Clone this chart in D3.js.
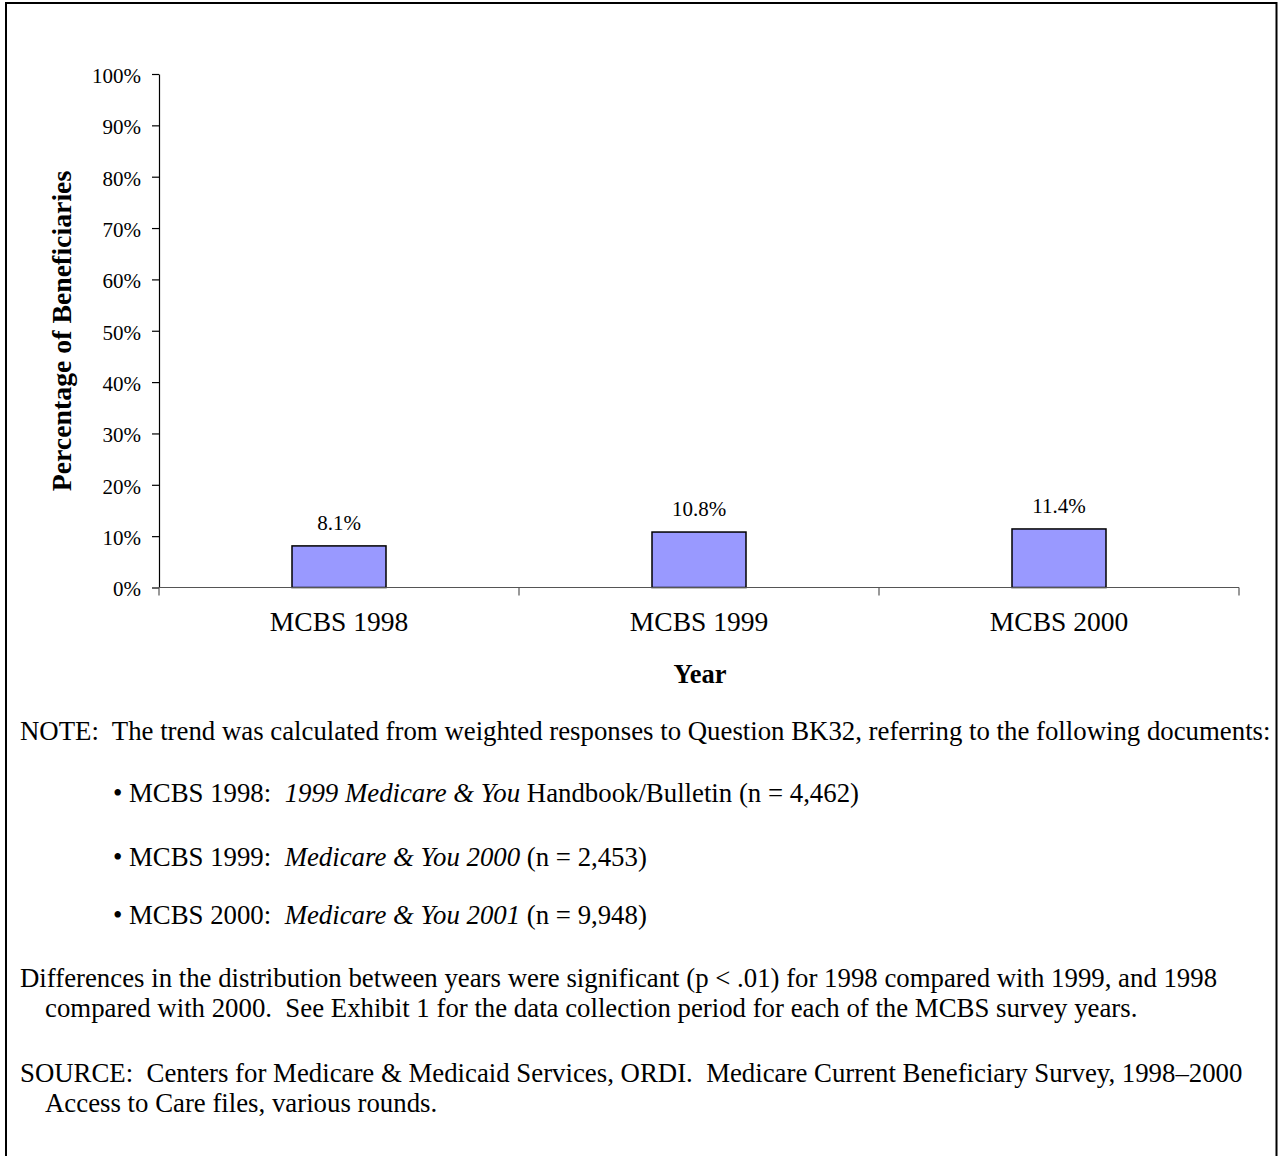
<!DOCTYPE html>
<html>
<head>
<meta charset="utf-8">
<script src="https://cdn.jsdelivr.net/npm/d3@7"></script>
<style>
  html, body { margin: 0; padding: 0; background: #fff; }
  svg { display: block; }
  text { font-family: "Liberation Serif", "Times New Roman", serif; fill: #000; }
</style>
</head>
<body>
<svg id="chart" width="1279" height="1156"></svg>
<script>
// Survey years and share of beneficiaries (%)
const categories = ["MCBS 1998", "MCBS 1999", "MCBS 2000"];
const values = [8.1, 10.8, 11.4];
const valueLabels = ["8.1%", "10.8%", "11.4%"];
const yTicks = [0, 10, 20, 30, 40, 50, 60, 70, 80, 90, 100];

const svg = d3.select("#chart");

// page frame
svg.append("path")
  .attr("d", "M6,1156 V3 H1276.5 V1156")
  .attr("fill", "none").attr("stroke", "#000").attr("stroke-width", 2);

const plot = { left: 159, right: 1239, top: 74, bottom: 587.5 };

const x = d3.scaleBand().domain(categories)
  .range([plot.left, plot.right]).paddingInner(0).paddingOuter(0);
const y = d3.scaleLinear().domain([0, 100]).range([plot.bottom, plot.top]);

// y axis
const yAxis = svg.append("g")
  .attr("transform", `translate(${plot.left},0)`)
  .call(d3.axisLeft(y).tickValues(yTicks).tickFormat(d => d + "%").tickSize(7).tickSizeOuter(0).tickPadding(11));
yAxis.select(".domain").attr("stroke", "#000").attr("stroke-width", 1.2);
yAxis.selectAll(".tick line").attr("stroke", "#000").attr("stroke-width", 1.2);
yAxis.selectAll(".tick text")
  .attr("font-size", 21).attr("font-family", "Liberation Serif").attr("fill", "#000")
  .attr("dy", "0.4em");

// bars
const barW = 94;
svg.append("g").selectAll("rect").data(values).join("rect")
  .attr("x", (d, i) => x(categories[i]) + x.bandwidth() / 2 - barW / 2)
  .attr("y", d => y(d))
  .attr("width", barW)
  .attr("height", d => y(0) - y(d))
  .attr("fill", "#9999FF")
  .attr("stroke", "#000")
  .attr("stroke-width", 1.5);

// value labels
svg.append("g").selectAll("text").data(values).join("text")
  .attr("x", (d, i) => x(categories[i]) + x.bandwidth() / 2)
  .attr("y", d => y(d) - 16)
  .attr("text-anchor", "middle")
  .attr("font-size", 21)
  .text((d, i) => valueLabels[i]);

// x axis: boundaries between categories
const xAxisG = svg.append("g").attr("transform", `translate(0,${plot.bottom})`);
xAxisG.append("line")
  .attr("x1", plot.left).attr("x2", plot.right)
  .attr("y1", 0).attr("y2", 0)
  .attr("stroke", "#555").attr("stroke-width", 1.2);
const bounds = categories.map(c => x(c)).concat([x(categories[categories.length - 1]) + x.bandwidth()]);
xAxisG.selectAll("line.tk").data(bounds).join("line")
  .attr("class", "tk")
  .attr("x1", d => d).attr("x2", d => d)
  .attr("y1", 0).attr("y2", 8)
  .attr("stroke", "#555").attr("stroke-width", 1.2);
xAxisG.selectAll("text").data(categories).join("text")
  .attr("x", d => x(d) + x.bandwidth() / 2)
  .attr("y", 43.5)
  .attr("text-anchor", "middle")
  .attr("font-size", 27.5)
  .text(d => d);

// axis titles
svg.append("text")
  .attr("transform", "translate(71,331) rotate(-90)")
  .attr("text-anchor", "middle")
  .attr("font-size", 27.8).attr("font-weight", "bold")
  .text("Percentage of Beneficiaries");
svg.append("text")
  .attr("x", 700).attr("y", 683)
  .attr("text-anchor", "middle")
  .attr("font-size", 26.5).attr("font-weight", "bold")
  .text("Year");

// notes
const notes = svg.append("g").attr("font-size", 26.8);
notes.append("text").attr("x", 20).attr("y", 740)
  .text("NOTE:\u00a0 The trend was calculated from weighted responses to Question BK32, referring to the following documents:");

const bulletItems = [
  { y: 802, lead: "MCBS 1998:\u00a0 ", it: "1999 Medicare & You", tail: " Handbook/Bulletin (n = 4,462)" },
  { y: 866, lead: "MCBS 1999:\u00a0 ", it: "Medicare & You 2000", tail: " (n = 2,453)" },
  { y: 924, lead: "MCBS 2000:\u00a0 ", it: "Medicare & You 2001", tail: " (n = 9,948)" }
];
bulletItems.forEach(b => {
  notes.append("text").attr("x", 113).attr("y", b.y).text("\u2022");
  const t = notes.append("text").attr("x", 129).attr("y", b.y);
  t.append("tspan").text(b.lead);
  t.append("tspan").attr("font-style", "italic").text(b.it);
  t.append("tspan").text(b.tail);
});

notes.append("text").attr("x", 20).attr("y", 987)
  .text("Differences in the distribution between years were significant (p < .01) for 1998 compared with 1999, and 1998");
notes.append("text").attr("x", 45).attr("y", 1017)
  .text("compared with 2000.\u00a0 See Exhibit 1 for the data collection period for each of the MCBS survey years.");
notes.append("text").attr("x", 20).attr("y", 1082)
  .text("SOURCE:\u00a0 Centers for Medicare & Medicaid Services, ORDI.\u00a0 Medicare Current Beneficiary Survey, 1998\u20132000");
notes.append("text").attr("x", 45).attr("y", 1112)
  .text("Access to Care files, various rounds.");
</script>
</body>
</html>
